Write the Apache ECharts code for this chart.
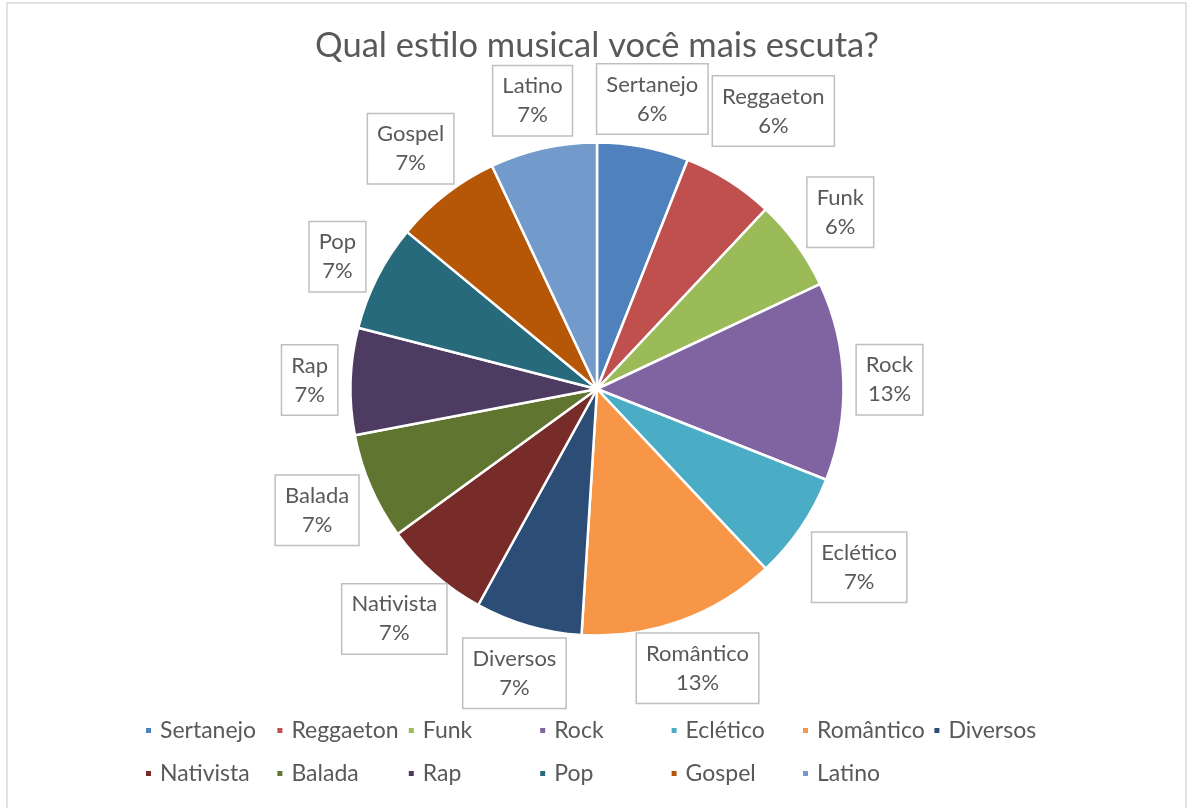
<!DOCTYPE html>
<html>
<head>
<meta charset="utf-8">
<title>Qual estilo musical você mais escuta?</title>
<script src="https://cdn.jsdelivr.net/npm/echarts@6/dist/echarts.min.js"></script>
<style>
  html, body { margin: 0; padding: 0; background: #ffffff; }
  #chart { width: 1194px; height: 808px; }
</style>
</head>
<body>
<div id="chart"></div>
<script>
// Survey answers: share of respondents per music style (percent)
const styles = ['Sertanejo', 'Reggaeton', 'Funk', 'Rock', 'Eclético', 'Romântico', 'Diversos',
                'Nativista', 'Balada', 'Rap', 'Pop', 'Gospel', 'Latino'];
const shares = [6, 6, 6, 13, 7, 13, 7, 7, 7, 7, 7, 7, 7];
const palette = ['#4F81BD', '#C0504D', '#9BBB59', '#8064A2', '#4BACC6', '#F79646', '#2C4D75',
                 '#772C2A', '#5F7530', '#4D3B62', '#276A7C', '#B65708', '#729ACA'];
const chartTitle = 'Qual estilo musical você mais escuta?';

const FONT = 'Lato, "Open Sans", sans-serif';
const TEXT = '#595959';
const CX = 597, CY = 389, R = 246.5, LABEL_GAP = 12;

// Middle angle (radians, clockwise from 12 o'clock) of each slice
const total = shares.reduce((a, b) => a + b, 0);
const midAngles = [];
let acc = 0;
shares.forEach(v => { midAngles.push((acc + v / 2) / total * Math.PI * 2); acc += v; });

// Boxes already placed during the current layout pass, used to avoid collisions
const placed = [];
function overlaps(b, idx) {
  for (let j = 0; j < idx; j++) {
    const o = placed[j];
    if (!o) continue;
    if (b.x1 < o.x2 + 2 && b.x2 > o.x1 - 2 && b.y1 < o.y2 + 2 && b.y2 > o.y1 - 2) return true;
  }
  return false;
}

const chart = echarts.init(document.getElementById('chart'), null, { renderer: 'canvas' });

chart.setOption({
  backgroundColor: '#ffffff',
  animation: false,
  color: palette,
  title: {
    text: chartTitle,
    left: 'center',
    top: 23,
    textStyle: { fontFamily: FONT, fontSize: 34.5, fontWeight: 'normal', color: TEXT }
  },
  graphic: [{
    type: 'rect',
    shape: { x: 7, y: 3, width: 1179, height: 820 },
    style: { fill: 'none', stroke: '#d9d9d9', lineWidth: 1.5 },
    silent: true
  }],
  legend: {
    data: styles,
    left: 139,
    top: 704,
    width: 930,
    icon: 'rect',
    itemWidth: 7,
    itemHeight: 7,
    itemGap: 0,
    textStyle: {
      fontFamily: FONT, fontSize: 23, color: TEXT,
      width: 115.4, lineHeight: 43, padding: [0, 0, 0, 3]
    }
  },
  series: [{
    type: 'pie',
    center: [CX, CY],
    radius: R,
    startAngle: 90,
    clockwise: true,
    data: styles.map((name, i) => ({ name, value: shares[i] })),
    itemStyle: { borderColor: '#ffffff', borderWidth: 2.5 },
    label: {
      show: true,
      position: 'outside',
      formatter: '{b}\n{c}%',
      fontFamily: FONT,
      fontSize: 22,
      lineHeight: 29,
      color: TEXT,
      align: 'center',
      backgroundColor: '#ffffff',
      borderColor: '#bfbfbf',
      borderWidth: 1.5,
      padding: [6, 9, 5, 9]
    },
    labelLine: { show: false },
    // Put each boxed label just outside the rim along its slice's middle direction,
    // pushing it further out while it collides with an earlier label
    labelLayout: function (params) {
      const i = params.dataIndex;
      const a = midAngles[i];
      const s = Math.sin(a), c = Math.cos(a);
      const hw = params.labelRect.width / 2, hh = params.labelRect.height / 2;
      const t = Math.min(Math.abs(s) > 1e-6 ? hw / Math.abs(s) : Infinity,
                         Math.abs(c) > 1e-6 ? hh / Math.abs(c) : Infinity);
      let d = R + LABEL_GAP + t;
      let box;
      for (let k = 0; k < 40; k++) {
        const x = CX + d * s, y = CY - d * c;
        box = { x1: x - hw, x2: x + hw, y1: y - hh, y2: y + hh, x, y };
        if (!overlaps(box, i)) break;
        d += 2;
      }
      placed[i] = box;
      return { x: box.x, y: box.y, align: 'center', verticalAlign: 'middle' };
    },
    emphasis: { disabled: true }
  }]
});
</script>
</body>
</html>
